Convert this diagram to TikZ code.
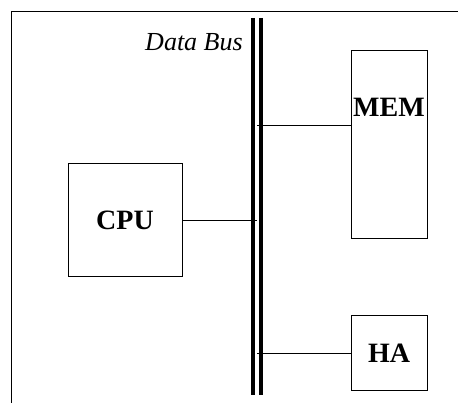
\documentclass[tikz,border=0pt]{standalone}
\usepackage{fontspec}
\setmainfont{Liberation Serif}
\usetikzlibrary{positioning}

\begin{document}
\begin{tikzpicture}[
  x=0.75pt, y=-0.75pt,
  box/.style={draw, line width=0.75pt, inner sep=0pt, font=\fontsize{21}{25}\selectfont\bfseries, align=center},
  wire/.style={line width=0.75pt},
  busline/.style={line width=3pt}
]
  \useasboundingbox (0,0) rectangle (458,403);
  \draw[wire] (11,403) |- (458,12);

  % the bus
  \coordinate (busTL) at (253,18);
  \coordinate (busBL) at (253,395);
  \coordinate (busTR) at (261,18);
  \coordinate (busBR) at (261,395);
  \coordinate (tap) at (257,0);
  \draw[busline] (busTL) -- (busBL);
  \draw[busline] (busTR) -- (busBR);
  \node[font=\fontsize{19.5}{23}\selectfont\itshape, anchor=base east, inner sep=0pt] (buslabel) at (243,50.5) {Data Bus};

  \node[box, minimum width=85.5pt, minimum height=84.75pt] (cpu) at (125,220.5) {CPU};
  \node[box, minimum width=57pt, text height=49.1pt, text depth=91.9pt] (mem) at (389,145) {MEM};
  \node[box, minimum width=57pt, minimum height=56.25pt, below=57pt of mem] (ha) {HA};

  \draw[wire] (cpu.east) -- (cpu.east -| tap);
  \draw[wire] ([yshift=-56.25pt]mem.north west) coordinate (memport) -- (memport -| tap);
  \draw[wire] (ha.west) -- (ha.west -| tap);
\end{tikzpicture}
\end{document}
